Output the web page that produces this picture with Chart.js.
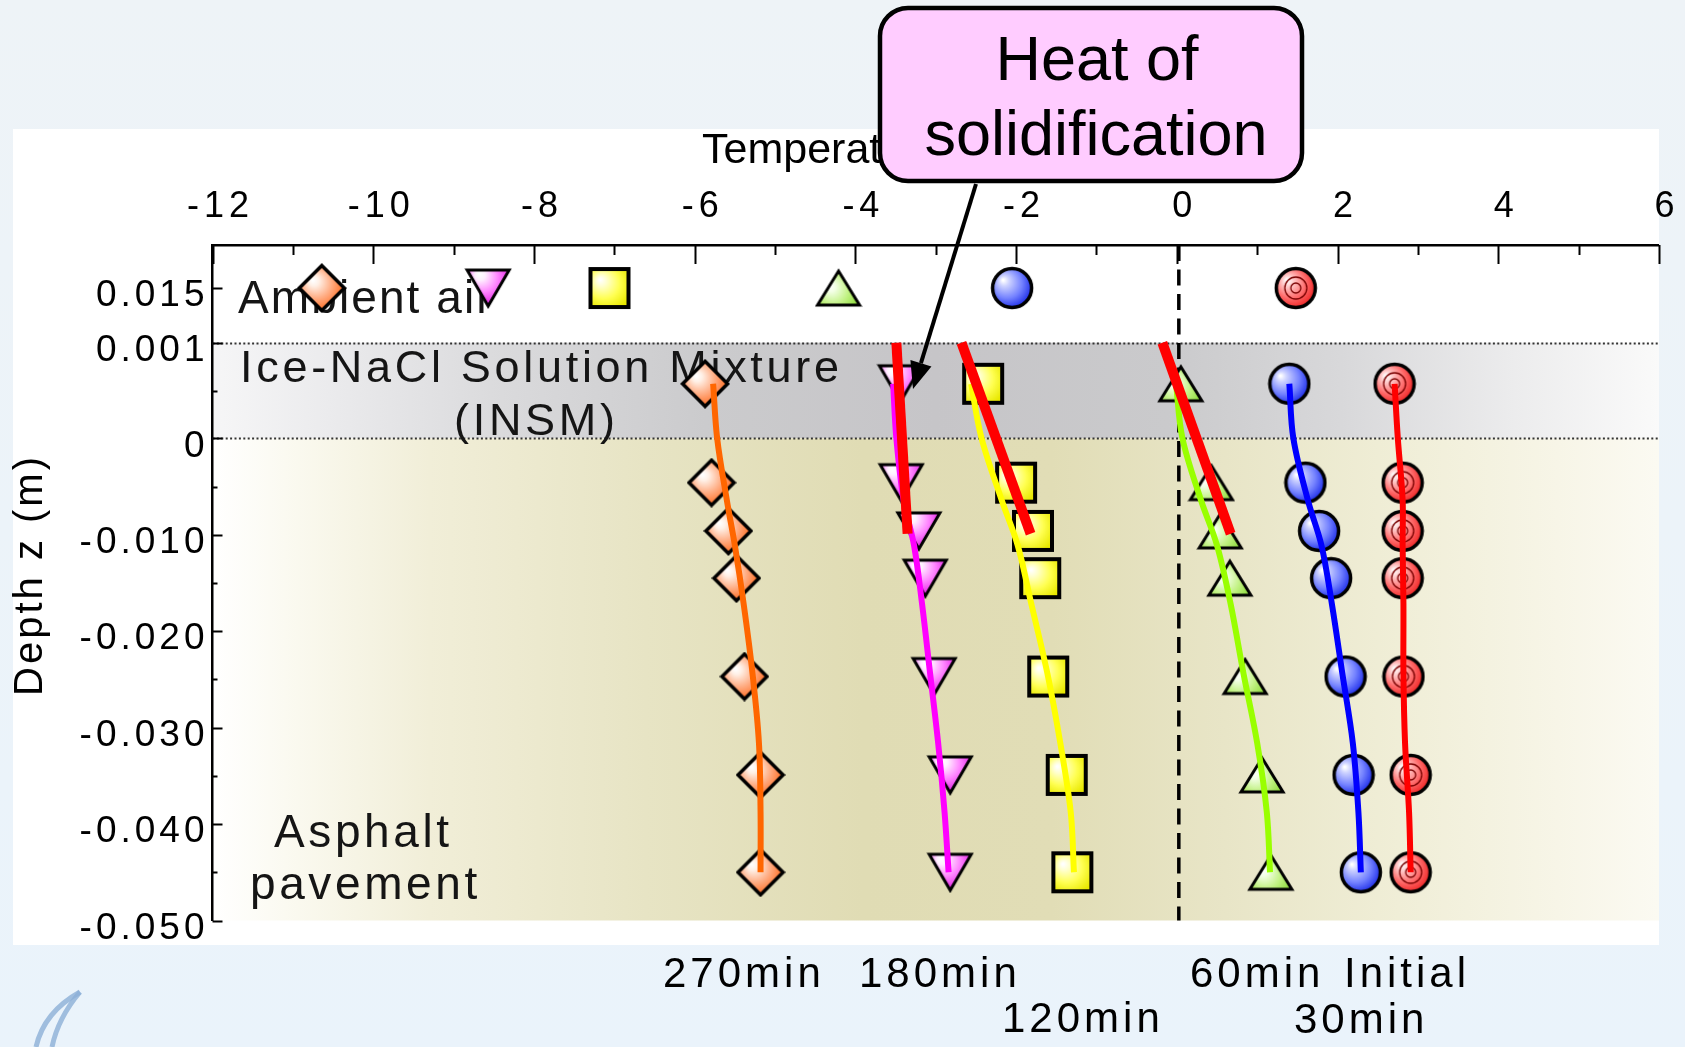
<!DOCTYPE html>
<html>
<head>
<meta charset="utf-8">
<script src="https://cdn.jsdelivr.net/npm/chart.js@4.4.1/dist/chart.umd.min.js"></script>
<style>
html,body{margin:0;padding:0;background:#edf4f9;overflow:hidden;}
canvas{display:block;}
</style>
</head>
<body>
<canvas id="chart" width="1685" height="1047"></canvas>
<script>
// ================= DATA =================
const xTickValues = [-12, -10, -8, -6, -4, -2, 0, 2, 4, 6];
const depthTickValues = [0.015, 0.001, 0, -0.010, -0.020, -0.030, -0.040, -0.050];
const depthTickLabels = ['0.015', '0.001', '0', '-0.010', '-0.020', '-0.030', '-0.040', '-0.050'];
const depthMinorTicks = [0.0005, -0.005, -0.015, -0.025, -0.035, -0.045];
const seriesNames = ['Initial', '30min', '60min', '120min', '180min', '270min'];

// measured points (ambient air, INSM, asphalt sensors)
const depthMeasured = [0.015, 0.00057, -0.0046, -0.0096, -0.0145, -0.0247, -0.0349, -0.0450];
const tempInitial = [1.48, 2.71, 2.81, 2.81, 2.81, 2.82, 2.91, 2.91];
const temp30min   = [-2.05, 1.40, 1.60, 1.77, 1.92, 2.10, 2.20, 2.29];
const temp60min   = [-4.21, 0.05, 0.43, 0.54, 0.66, 0.85, 1.06, 1.17];
const temp120min  = [-7.06, -2.41, -2.00, -1.79, -1.70, -1.60, -1.37, -1.30];
const temp180min  = [-8.57, -3.44, -3.43, -3.21, -3.13, -3.02, -2.82, -2.82];
const temp270min  = [-10.64, -5.87, -5.79, -5.58, -5.48, -5.38, -5.18, -5.18];

// simulated profiles (solid curves)
const depthModel   = [0.00057, 0, -0.0064, -0.0111, -0.0172, -0.0244, -0.0316, -0.0388, -0.0450];
const modelInitial = [2.71, 2.75, 2.81, 2.81, 2.82, 2.82, 2.84, 2.89, 2.91];
const model30min   = [1.40, 1.45, 1.63, 1.80, 1.93, 2.06, 2.19, 2.26, 2.29];
const model60min   = [-0.01, 0.07, 0.30, 0.50, 0.67, 0.83, 1.00, 1.12, 1.16];
const model120min  = [-2.56, -2.43, -2.18, -1.98, -1.81, -1.61, -1.45, -1.32, -1.28];
const model180min  = [-3.53, -3.49, -3.40, -3.27, -3.17, -3.07, -2.97, -2.89, -2.84];
const model270min  = [-5.77, -5.72, -5.60, -5.50, -5.39, -5.28, -5.20, -5.18, -5.18];

// "heat of solidification" segments
const heatDepth = [0.001, -0.0099];
const heat180 = [-3.49, -3.35];
const heat120 = [-2.68, -1.82];
const heat60  = [-0.18, 0.67];

// ================= LAYOUT / STYLE =================
const W = 1685, H = 1047;
const PLOT_LEFT = 212.5, PLOT_TOP = 245, PLOT_RIGHT = 1659.5, PLOT_BOTTOM = 920.5;
const FONT = '"Liberation Sans", Arial, sans-serif';
Chart.defaults.font.family = FONT;

// piecewise depth axis (air / INSM expanded / asphalt linear)
const U_INSM = 0.009913, U_AIR = 0.015585, U_MIN = -0.050, U_MAX = 0.020044;
function toU(z) {
  if (z <= 0) return z;
  if (z <= 0.001) return z / 0.001 * U_INSM;
  return U_INSM + (z - 0.001) / 0.014 * (U_AIR - U_INSM);
}
function fromU(u) {
  if (u <= 0) return u;
  if (u <= U_INSM) return u / U_INSM * 0.001;
  return 0.001 + (u - U_INSM) / (U_AIR - U_INSM) * 0.014;
}

class SpacedLinearScale extends Chart.LinearScale {
  drawLabels(chartArea) {
    const c = this.ctx;
    c.save();
    c.letterSpacing = this.isHorizontal() ? '5px' : '4px';
    super.drawLabels(chartArea);
    c.restore();
  }
  drawTitle() {
    const t = this.options.title;
    if (!t.display) return;
    const c = this.ctx;
    const f = Chart.helpers.toFont(t.font);
    c.save();
    c.font = f.string;
    c.fillStyle = t.color;
    c.textBaseline = 'alphabetic';
    if (this.isHorizontal()) {
      c.textAlign = 'left';
      c.fillText(t.text, 702, 163);
    } else {
      c.letterSpacing = '3px';
      c.translate(42, 575);
      c.rotate(-Math.PI / 2);
      c.textAlign = 'center';
      c.fillText(t.text, 0, 0);
    }
    c.restore();
  }
}
SpacedLinearScale.id = 'spacedLinear';
SpacedLinearScale.defaults = {};

class DepthScale extends SpacedLinearScale {
  determineDataLimits() { this.min = U_MIN; this.max = U_MAX; }
  buildTicks() { return depthTickValues.map(v => ({ value: v })); }
  getPixelForValue(v) { return super.getPixelForValue(toU(v)); }
  getValueForPixel(p) { return fromU(super.getValueForPixel(p)); }
}
DepthScale.id = 'depth';
DepthScale.defaults = {};
Chart.register(SpacedLinearScale, DepthScale);

// ================= MARKERS =================
function mk(w, h, fn) { const c = document.createElement('canvas'); c.width = w; c.height = h; fn(c.getContext('2d'), w, h); return c; }
function gloss(g, cx, cy, r, light, mid, dark) {
  const gr = g.createRadialGradient(cx - r * 0.45, cy - r * 0.4, r * 0.04, cx - r * 0.15, cy - r * 0.15, r * 1.25);
  gr.addColorStop(0, '#ffffff'); gr.addColorStop(0.18, light); gr.addColorStop(0.6, mid); gr.addColorStop(1, dark);
  return gr;
}
const mBlue = mk(44, 44, g => {
  g.beginPath(); g.arc(22, 22, 19.5, 0, Math.PI * 2);
  g.fillStyle = gloss(g, 22, 22, 20, '#cdd2ff', '#7482ff', '#1222e6'); g.fill();
  g.lineWidth = 3.5; g.strokeStyle = '#000'; g.stroke();
});
const mRed = mk(44, 44, g => {
  g.beginPath(); g.arc(22, 22, 19.5, 0, Math.PI * 2);
  g.fillStyle = gloss(g, 22, 22, 20, '#ffd0d0', '#ff6a6a', '#ee1c1c'); g.fill();
  g.lineWidth = 3.5; g.strokeStyle = '#000'; g.stroke();
  g.lineWidth = 1.3; g.strokeStyle = '#7a0000';
  g.beginPath(); g.arc(22, 22, 11, 0, Math.PI * 2); g.stroke();
  g.beginPath(); g.arc(22, 22, 5, 0, Math.PI * 2); g.stroke();
});
const mSquare = mk(44, 44, g => {
  g.beginPath(); g.rect(3, 3, 38, 38);
  g.fillStyle = gloss(g, 22, 22, 21, '#ffffd0', '#ffff50', '#e8e800'); g.fill();
  g.lineWidth = 4; g.strokeStyle = '#000'; g.stroke();
});
const mDiamond = mk(50, 50, g => {
  g.beginPath(); g.moveTo(25, 2.5); g.lineTo(47.5, 25); g.lineTo(25, 47.5); g.lineTo(2.5, 25); g.closePath();
  g.fillStyle = gloss(g, 25, 25, 20, '#fff0e6', '#ffac82', '#ff7026'); g.fill();
  g.lineWidth = 3.5; g.strokeStyle = '#000'; g.lineJoin = 'miter'; g.stroke();
});
const mDown = mk(48, 42, g => {
  g.beginPath(); g.moveTo(3, 3); g.lineTo(45, 3); g.lineTo(24, 39); g.closePath();
  g.fillStyle = gloss(g, 24, 15, 20, '#fff0ff', '#ff84ff', '#e628e6'); g.fill();
  g.lineWidth = 3; g.strokeStyle = '#000'; g.stroke();
});
const mUp = mk(48, 40, g => {
  g.beginPath(); g.moveTo(24, 3); g.lineTo(45, 37); g.lineTo(3, 37); g.closePath();
  g.fillStyle = gloss(g, 24, 26, 20, '#f2ffe4', '#c2f284', '#8edc3c'); g.fill();
  g.lineWidth = 3; g.strokeStyle = '#000'; g.stroke();
});

// ================= DATASETS =================
function pts(xs, zs) { return xs.map((x, i) => ({ x: x, y: zs[i] })); }
const measured = [tempInitial, temp30min, temp60min, temp120min, temp180min, temp270min];
const models = [modelInitial, model30min, model60min, model120min, model180min, model270min];
const markerImgs = [mRed, mBlue, mUp, mSquare, mDown, mDiamond];
const lineColors = ['#ff0000', '#0000ff', '#99ff00', '#ffff00', '#ff00ff', '#ff6600'];

const datasets = [];
seriesNames.forEach((name, i) => {
  datasets.push({
    label: name + ' (measured)', data: pts(measured[i], depthMeasured),
    showLine: false, pointStyle: markerImgs[i], pointRadius: 20, order: 2, clip: false
  });
  datasets.push({
    label: name + ' (simulated)', data: pts(models[i], depthModel),
    showLine: true, pointRadius: 0, borderColor: lineColors[i], borderWidth: 6,
    tension: 0.35, order: 1, borderCapStyle: 'butt'
  });
});
[heat180, heat120, heat60].forEach((h, i) => {
  datasets.push({
    label: 'Heat of solidification ' + (i + 1), data: pts(h, heatDepth),
    showLine: true, pointRadius: 0, borderColor: '#ff0000', borderWidth: 10,
    order: 0, borderCapStyle: 'butt', tension: 0
  });
});

// ================= PLUGINS =================
function spaced(c, text, x, y, size, spacing, align) {
  c.font = size + 'px ' + FONT;
  c.letterSpacing = spacing + 'px';
  c.textAlign = align || 'left';
  c.textBaseline = 'alphabetic';
  c.fillText(text, x, y);
}

const bgPlugin = {
  id: 'bg',
  beforeDraw(chart) {
    const c = chart.ctx, a = chart.chartArea, yS = chart.scales.y;
    c.save();
    let g = c.createLinearGradient(0, 0, 0, H);
    g.addColorStop(0, '#eef3f7'); g.addColorStop(1, '#eaf3fb');
    c.fillStyle = g; c.fillRect(0, 0, W, H);
    c.fillStyle = '#ffffff'; c.fillRect(13, 129, a.right - 13, 945 - 129);

    const yI = yS.getPixelForValue(0.001), y0 = yS.getPixelForValue(0), yB = yS.getPixelForValue(-0.05);
    g = c.createLinearGradient(a.left, 0, a.right, 0);
    g.addColorStop(0, '#f6f6f7'); g.addColorStop(0.08, '#ebebed'); g.addColorStop(0.2, '#dadadc');
    g.addColorStop(0.34, '#cbcbcd'); g.addColorStop(0.5, '#c6c5c8'); g.addColorStop(0.66, '#cacacc');
    g.addColorStop(0.78, '#d8d8da'); g.addColorStop(0.9, '#ececed'); g.addColorStop(1, '#fafafa');
    c.fillStyle = g; c.fillRect(a.left, yI, a.right - a.left, y0 - yI);

    g = c.createLinearGradient(a.left, 0, a.right, 0);
    g.addColorStop(0, '#ffffff'); g.addColorStop(0.05, '#fbfaf1'); g.addColorStop(0.15, '#f1eed8');
    g.addColorStop(0.3, '#e7e4c4'); g.addColorStop(0.45, '#e0dcb4'); g.addColorStop(0.58, '#e1ddb6');
    g.addColorStop(0.7, '#e8e5c7'); g.addColorStop(0.82, '#f0eed7'); g.addColorStop(0.93, '#f7f5e7');
    g.addColorStop(1, '#fbfaf2');
    c.fillStyle = g; c.fillRect(a.left, y0, a.right - a.left, yB - y0);
    c.restore();
  }
};

const inPlotPlugin = {
  id: 'inplot',
  beforeDatasetsDraw(chart) {
    const c = chart.ctx, a = chart.chartArea, xS = chart.scales.x, yS = chart.scales.y;
    c.save();
    // dotted boundaries of INSM
    c.setLineDash([2, 2.4]); c.lineWidth = 2; c.strokeStyle = '#333';
    [0.001, 0].forEach(z => {
      const y = Math.round(yS.getPixelForValue(z)) + 0.5;
      c.beginPath(); c.moveTo(a.left, y); c.lineTo(a.right, y); c.stroke();
    });
    // dashed 0 degC line
    c.setLineDash([16, 8.5]); c.lineWidth = 3.5; c.strokeStyle = '#000';
    const x0 = xS.getPixelForValue(0) + 2;
    c.beginPath(); c.moveTo(x0, a.top); c.lineTo(x0, a.bottom); c.stroke();
    c.setLineDash([]);
    // layer labels
    c.fillStyle = '#151515';
    spaced(c, 'Ambient air', 238, 313, 46, 2.1);
    spaced(c, 'Ice-NaCl Solution Mixture', 240, 382, 45, 3.7);
    spaced(c, '(INSM)', 454, 435, 45, 3.7);
    spaced(c, 'Asphalt', 274, 847, 46, 3.6);
    spaced(c, 'pavement', 250, 899, 46, 3.6);
    c.restore();
  }
};

const bottomLabelPos = {
  '270min': [663, 987], '180min': [859, 987], '120min': [1002, 1032],
  '60min': [1190, 987], 'Initial': [1344, 987], '30min': [1294, 1033]
};

const overlayPlugin = {
  id: 'overlay',
  afterDraw(chart) {
    const c = chart.ctx, a = chart.chartArea, xS = chart.scales.x, yS = chart.scales.y;
    c.save();
    // tick marks (inward)
    c.strokeStyle = '#000'; c.lineWidth = 2;
    for (let t = -12; t <= 6; t++) {
      const x = Math.round(xS.getPixelForValue(t)) + 0.5;
      const len = (t % 2 === 0) ? 19 : 10;
      c.beginPath(); c.moveTo(x, a.top); c.lineTo(x, a.top + len); c.stroke();
    }
    depthTickValues.forEach(z => {
      const y = Math.round(yS.getPixelForValue(z)) + 0.5;
      c.beginPath(); c.moveTo(a.left, y); c.lineTo(a.left + 10, y); c.stroke();
    });
    depthMinorTicks.forEach(z => {
      const y = Math.round(yS.getPixelForValue(z)) + 0.5;
      c.beginPath(); c.moveTo(a.left, y); c.lineTo(a.left + 5, y); c.stroke();
    });

    // series names under the plot
    c.fillStyle = '#000';
    seriesNames.forEach(n => { const p = bottomLabelPos[n]; spaced(c, n, p[0], p[1], 42, 4); });

    // arrow from callout to 180 min curve
    const sx = 976, sy = 184, tx = 913, ty = 389;
    const ang = Math.atan2(ty - sy, tx - sx), hl = 27, hw = 11;
    const bx = tx - hl * Math.cos(ang), by = ty - hl * Math.sin(ang);
    c.strokeStyle = '#000'; c.lineWidth = 4;
    c.beginPath(); c.moveTo(sx, sy); c.lineTo(bx, by); c.stroke();
    c.fillStyle = '#000';
    c.beginPath(); c.moveTo(tx, ty);
    c.lineTo(bx + hw * Math.sin(ang), by - hw * Math.cos(ang));
    c.lineTo(bx - hw * Math.sin(ang), by + hw * Math.cos(ang));
    c.closePath(); c.fill();

    // callout box
    const L = 880, T = 8, R = 1302, B = 181, r = 28;
    c.beginPath();
    c.moveTo(L + r, T); c.lineTo(R - r, T); c.arcTo(R, T, R, T + r, r);
    c.lineTo(R, B - r); c.arcTo(R, B, R - r, B, r);
    c.lineTo(L + r, B); c.arcTo(L, B, L, B - r, r);
    c.lineTo(L, T + r); c.arcTo(L, T, L + r, T, r); c.closePath();
    c.fillStyle = '#ffccff'; c.fill();
    c.lineWidth = 4.5; c.strokeStyle = '#000'; c.stroke();
    c.fillStyle = '#000';
    spaced(c, 'Heat of', 1097, 80, 63, 0, 'center');
    spaced(c, 'solidification', 1096, 155, 63, 0, 'center');

    // faint logo fragment bottom-left
    c.strokeStyle = 'rgba(140,175,215,0.8)'; c.lineWidth = 5;
    c.beginPath(); c.moveTo(36, 1047); c.quadraticCurveTo(44, 1012, 80, 992); c.stroke();
    c.beginPath(); c.moveTo(52, 1047); c.quadraticCurveTo(58, 1018, 80, 992); c.stroke();
    c.restore();
  }
};

// ================= CHART =================
new Chart(document.getElementById('chart'), {
  type: 'scatter',
  data: { datasets: datasets },
  options: {
    responsive: false,
    animation: false,
    devicePixelRatio: 1,
    events: [],
    layout: { padding: { left: 0, top: 0, right: W - PLOT_RIGHT, bottom: H - PLOT_BOTTOM } },
    plugins: { legend: { display: false }, tooltip: { enabled: false } },
    scales: {
      x: {
        type: 'spacedLinear', position: 'top', min: -12, max: 6,
        afterFit: s => { s.height = PLOT_TOP; },
        grid: { display: false, drawTicks: false },
        border: { display: true, color: '#000', width: 2.5 },
        ticks: { stepSize: 2, autoSkip: false, maxRotation: 0, padding: 16, labelOffset: 8, color: '#000', font: { size: 36 } },
        title: { display: true, text: 'Temperature (°C)', color: '#000', font: { size: 43 } }
      },
      y: {
        type: 'depth', position: 'left',
        afterFit: s => { s.width = PLOT_LEFT; },
        grid: { display: false, drawTicks: false },
        border: { display: true, color: '#000', width: 2.5 },
        ticks: { autoSkip: false, padding: 4, labelOffset: 8, color: '#000', font: { size: 37 },
                 callback: (v, i) => depthTickLabels[i] },
        title: { display: true, text: 'Depth z (m)', color: '#000', font: { size: 40 } }
      }
    }
  },
  plugins: [bgPlugin, inPlotPlugin, overlayPlugin]
});
</script>
</body>
</html>
